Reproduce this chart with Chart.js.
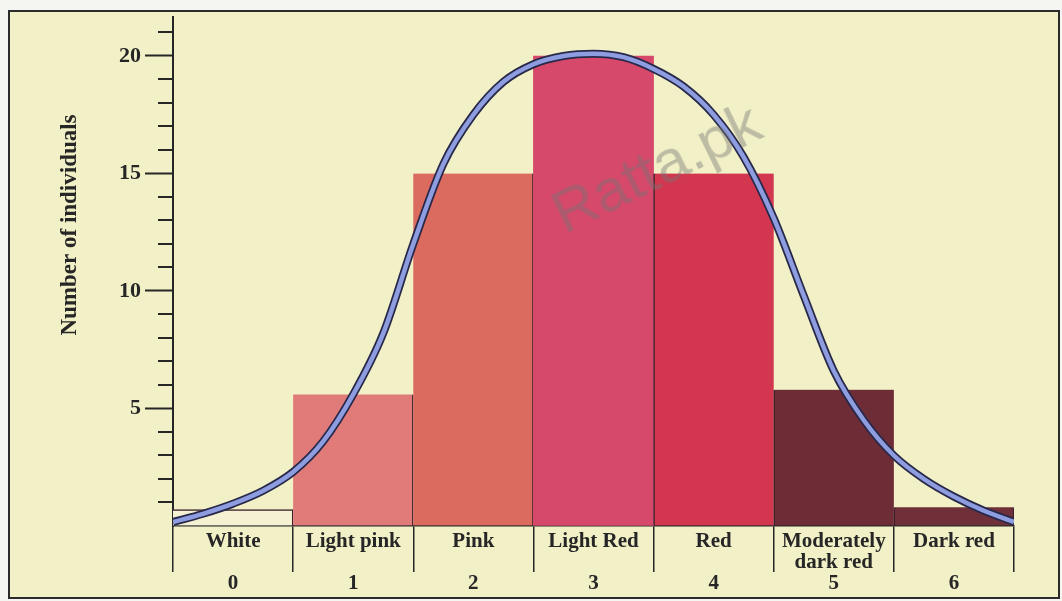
<!DOCTYPE html>
<html>
<head>
<meta charset="utf-8">
<title>Number of individuals by flower colour</title>
<script src="https://cdn.jsdelivr.net/npm/chart.js@4/dist/chart.umd.min.js"></script>
<style>
  html, body { margin: 0; padding: 0; background: #f5f5f1; }
  #wrap { position: relative; width: 1062px; height: 601px; overflow: hidden; }
  #frame {
    position: absolute; left: 8px; top: 10px; width: 1048px; height: 585px;
    border: 2px solid #2b2b2b; background: #f2f0c6;
  }
  #chart { position: absolute; left: 0; top: 0; }
  #mark {
    position: absolute; left: 656px; top: 167px;
    font: 60px "Liberation Sans", sans-serif; color: rgba(115, 115, 115, 0.42);
    transform: translate(-50%, -50%) rotate(-26deg);
    white-space: nowrap;
  }
</style>
</head>
<body>
<div id="wrap">
  <div id="frame"></div>
  <canvas id="chart" width="1062" height="601"></canvas>
  <div id="mark">Ratta.pk</div>
</div>
<script>
// colour classes, counts and class numbers
const colourNames = [
  ["White"], ["Light pink"], ["Pink"], ["Light Red"], ["Red"],
  ["Moderately", "dark red"], ["Dark red"]
];
const classNumbers = ["0", "1", "2", "3", "4", "5", "6"];
const counts = [0.7, 5.6, 15, 20, 15, 5.8, 0.8];
const barColours = ["#f4f2d2", "#e07b7a", "#db6a5f", "#d6496b", "#d2374f", "#6d2c36", "#70303a"];

// smooth distribution curve, x in class units (class centre = 0..6)
const curveX = [-0.5, -0.25, 0, 0.25, 0.5, 0.75, 1, 1.25, 1.5, 1.75, 2, 2.25, 2.5, 2.75, 3,
  3.25, 3.5, 3.75, 4, 4.25, 4.5, 4.75, 5, 5.25, 5.5, 5.75, 6, 6.25, 6.5];
const curveY = [0.17, 0.52, 0.95, 1.5, 2.3, 3.6, 5.6, 8.2, 12.0, 15.4, 17.5, 18.9, 19.65, 20.0, 20.1,
  19.95, 19.45, 18.7, 17.5, 15.7, 13.1, 9.8, 6.6, 4.5, 3.0, 2.0, 1.25, 0.65, 0.17];

const yTicks = [5, 10, 15, 20];
const ink = "#262626";
const serif = "'Liberation Serif', 'Times New Roman', serif";

// each label gets an empty line when short, then the class number
const xLabels = colourNames.map((n, i) => n.length === 2 ? [n[0], n[1], classNumbers[i]] : [n[0], "", classNumbers[i]]);
const curve = curveX.map((x, i) => ({ x: x, y: curveY[i] }));

// bar side borders only where a neighbour is lower
const sideBorders = [
  { top: 1.5, right: 1.5, left: 0, bottom: 0 },
  { top: 0, right: 1.5, left: 0, bottom: 0 },
  { top: 0, right: 1.5, left: 0, bottom: 0 },
  0,
  { top: 0, right: 0, left: 1.5, bottom: 0 },
  { top: 0, right: 0, left: 1.5, bottom: 0 },
  { top: 0, right: 1.5, left: 1.5, bottom: 0 }
];

const minorTicks = {
  id: "minorTicks",
  afterDraw(chart) {
    const y = chart.scales.y;
    const ctx = chart.ctx;
    ctx.save();
    ctx.strokeStyle = ink;
    ctx.lineWidth = 2;
    for (let v = 1; v <= 21; v++) {
      if (v % 5 === 0) continue;
      const py = Math.round(y.getPixelForValue(v));
      ctx.beginPath();
      ctx.moveTo(y.right - 15, py);
      ctx.lineTo(y.right, py);
      ctx.stroke();
    }
    // y title
    ctx.translate(70, 225);
    ctx.rotate(-Math.PI / 2);
    ctx.font = "bold 23px " + serif;
    ctx.fillStyle = ink;
    ctx.textAlign = "center";
    ctx.textBaseline = "middle";
    ctx.fillText("Number of individuals", 0, 0);
    ctx.restore();
  }
};

new Chart(document.getElementById("chart"), {
  data: {
    labels: xLabels,
    datasets: [
      {
        type: "line",
        xAxisID: "xc",
        data: curve,
        borderColor: "#8e9ce0",
        borderWidth: 4.5,
        pointRadius: 0,
        cubicInterpolationMode: "monotone",
        order: 0
      },
      {
        type: "line",
        xAxisID: "xc",
        data: curve,
        borderColor: "#28294a",
        borderWidth: 8,
        pointRadius: 0,
        cubicInterpolationMode: "monotone",
        order: 1
      },
      {
        type: "bar",
        data: counts,
        backgroundColor: barColours,
        borderColor: "#3a1f2a",
        borderWidth: (c) => sideBorders[c.dataIndex],
        borderSkipped: false,
        grouped: false,
        barPercentage: 1,
        categoryPercentage: 1,
        order: 2
      }
    ]
  },
  plugins: [minorTicks],
  options: {
    responsive: false,
    devicePixelRatio: 1,
    animation: false,
    layout: { padding: { left: 0, top: 15, right: 48, bottom: 0 } },
    plugins: { legend: { display: false }, tooltip: { enabled: false } },
    scales: {
      x: {
        type: "category",
        offset: true,
        afterFit: (s) => { s.height = 75; },
        border: { display: true, color: ink, width: 1.5 },
        grid: { offset: true, drawOnChartArea: false, drawTicks: true, tickLength: 46, color: ink, lineWidth: 1.5 },
        ticks: {
          padding: -41,
          color: ink,
          maxRotation: 0,
          autoSkip: false,
          font: { family: serif, size: 21, weight: "bold", lineHeight: 1.0 }
        }
      },
      xc: {
        type: "linear",
        display: false,
        min: -0.5,
        max: 6.5
      },
      y: {
        min: 0,
        max: 21.65,
        afterFit: (s) => { s.width = 173; },
        border: { display: true, color: ink, width: 2 },
        grid: {
          drawOnChartArea: false,
          tickLength: 28,
          tickWidth: 2,
          tickColor: (c) => yTicks.includes(c.tick.value) ? ink : "rgba(0,0,0,0)"
        },
        ticks: {
          stepSize: 1,
          autoSkip: false,
          padding: 4,
          color: ink,
          font: { family: serif, size: 22, weight: "bold" },
          callback: (v) => yTicks.includes(v) ? String(v) : ""
        }
      }
    }
  }
});
</script>
</body>
</html>
